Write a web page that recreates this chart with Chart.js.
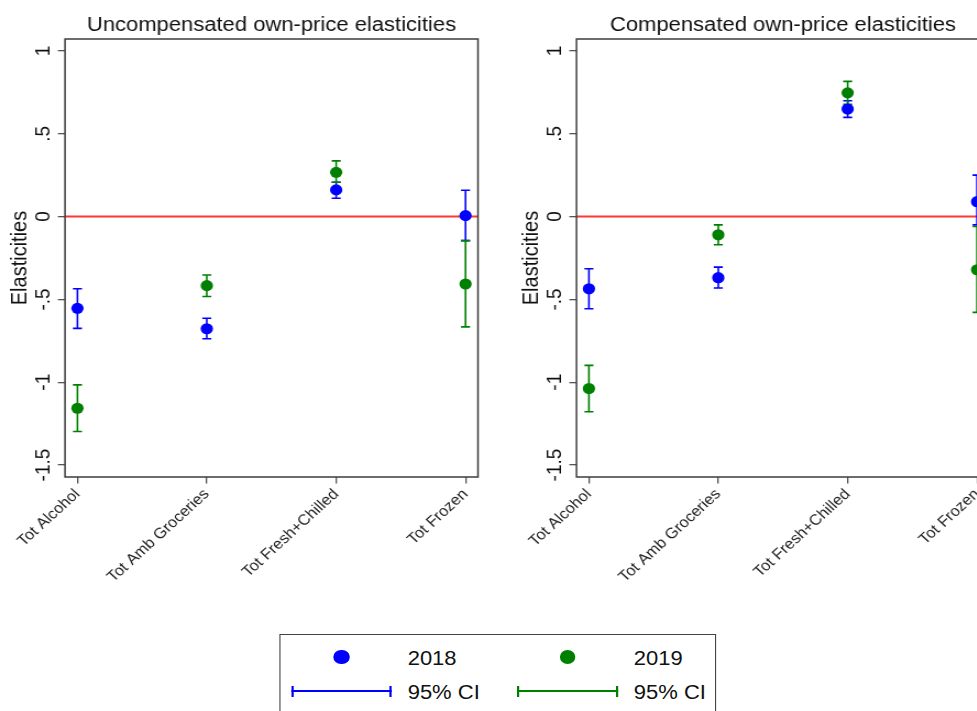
<!DOCTYPE html>
<html>
<head>
<meta charset="utf-8">
<title>Own-price elasticities</title>
<script src="https://cdn.jsdelivr.net/npm/chart.js@4.4.1/dist/chart.umd.min.js"></script>
<style>
  html, body { margin: 0; padding: 0; background: #fff; overflow: hidden; width: 977px; height: 711px; }
  /* whole figure is drawn at its natural width and then widened by 10% */
  #stage { position: absolute; left: 0; top: 0; width: 910px; height: 711px;
           transform: scaleX(1.1); transform-origin: 0 0;
           font-family: "Liberation Sans", Arial, sans-serif; color: #111; }
  .panel { position: absolute; top: 0; }
  #legend { position: absolute; left: 253.6px; top: 634px; width: 397.3px; height: 90px;
            border: 1.5px solid #444; box-sizing: border-box; background: #fff; }
  .dot { position: absolute; width: 14.5px; height: 14.5px; border-radius: 50%; }
  .txt { position: absolute; font-size: 20px; line-height: 20px; white-space: nowrap; }
  .ci { position: absolute; height: 11px; }
  .ci .bar { position: absolute; left: 0; right: 0; top: 4.5px; height: 2px; }
  .ci .cap { position: absolute; top: 0; width: 2px; height: 11px; }
</style>
</head>
<body>
<div id="stage">
  <canvas id="uncomp" class="panel" width="445" height="600" style="left:0px"></canvas>
  <canvas id="comp" class="panel" width="445" height="600" style="left:464.5px"></canvas>
  <div id="legend">
    <div class="dot" style="left:48.9px; top:14.5px; background:rgb(0,0,255)"></div>
    <div class="txt" style="left:116px; top:12.9px">2018</div>
    <div class="dot" style="left:254.4px; top:14.5px; background:rgb(0,128,0)"></div>
    <div class="txt" style="left:321.6px; top:12.9px">2019</div>
    <div class="ci" style="left:10px; width:91.6px; top:50.5px">
      <div class="bar" style="background:rgb(0,0,255)"></div>
      <div class="cap" style="left:0; background:rgb(0,0,255)"></div>
      <div class="cap" style="right:0; background:rgb(0,0,255)"></div>
    </div>
    <div class="txt" style="left:116px; top:47px">95% CI</div>
    <div class="ci" style="left:215.5px; width:92px; top:50.5px">
      <div class="bar" style="background:rgb(0,128,0)"></div>
      <div class="cap" style="left:0; background:rgb(0,128,0)"></div>
      <div class="cap" style="right:0; background:rgb(0,128,0)"></div>
    </div>
    <div class="txt" style="left:321.6px; top:47px">95% CI</div>
  </div>
</div>
<script>
// Product groups on the x axis
const categories = ['Tot Alcohol', 'Tot Amb Groceries', 'Tot Fresh+Chilled', 'Tot Frozen'];

// y-axis ticks and how they are printed
const yTickValues = [1, 0.5, 0, -0.5, -1, -1.5];
const yTickLabels = ['1', '.5', '0', '-.5', '-1', '-1.5'];

// Uncompensated own-price elasticities: estimate, lower and upper 95% bound
const uncomp2018 = [-0.554, -0.677, 0.161, 0.006];
const uncomp2018Lo = [-0.675, -0.737, 0.111, -0.145];
const uncomp2018Hi = [-0.436, -0.614, 0.207, 0.159];
const uncomp2019 = [-1.157, -0.417, 0.267, -0.407];
const uncomp2019Lo = [-1.297, -0.482, 0.207, -0.666];
const uncomp2019Hi = [-1.016, -0.353, 0.336, -0.145];

// Compensated own-price elasticities
const comp2018 = [-0.436, -0.369, 0.649, 0.090];
const comp2018Lo = [-0.556, -0.431, 0.599, -0.050];
const comp2018Hi = [-0.315, -0.305, 0.699, 0.250];
const comp2019 = [-1.038, -0.110, 0.747, -0.321];
const comp2019Lo = [-1.178, -0.170, 0.678, -0.578];
const comp2019Hi = [-0.898, -0.050, 0.816, -0.060];

const BLUE = 'rgb(0,0,255)';
const GREEN = 'rgb(0,128,0)';
const FONT = '"Liberation Sans", Arial, sans-serif';

// Zero line, confidence-interval caps, frame, panel title and vertical y tick labels
const decor = {
  id: 'decor',
  beforeDatasetsDraw(chart, args, opts) {
    const { ctx, chartArea: a, scales: { x, y } } = chart;
    ctx.save();
    ctx.strokeStyle = 'rgb(255,55,55)';
    ctx.lineWidth = 2;
    const y0 = y.getPixelForValue(0);
    ctx.beginPath(); ctx.moveTo(a.left, y0); ctx.lineTo(a.right, y0); ctx.stroke();
    const cap = 4.1;
    opts.intervals.forEach(s => {
      ctx.strokeStyle = s.color;
      ctx.lineWidth = 1.6;
      s.lo.forEach((lo, i) => {
        const px = x.getPixelForValue(i);
        const p1 = y.getPixelForValue(lo);
        const p2 = y.getPixelForValue(s.hi[i]);
        ctx.beginPath();
        ctx.moveTo(px, p1); ctx.lineTo(px, p2);
        ctx.moveTo(px - cap, p1); ctx.lineTo(px + cap, p1);
        ctx.moveTo(px - cap, p2); ctx.lineTo(px + cap, p2);
        ctx.stroke();
      });
    });
    ctx.restore();
  },
  afterDraw(chart, args, opts) {
    const { ctx, chartArea: a, scales: { y } } = chart;
    ctx.save();
    ctx.strokeStyle = '#3c3c3c';
    ctx.lineWidth = 1.5;
    ctx.strokeRect(a.left, a.top, a.right - a.left, a.bottom - a.top);

    ctx.fillStyle = '#111';
    ctx.font = '20px ' + FONT;
    ctx.textAlign = 'center';
    ctx.textBaseline = 'alphabetic';
    ctx.fillText(opts.title, (a.left + a.right) / 2, 30.7);

    ctx.font = '19px ' + FONT;
    yTickValues.forEach((v, i) => {
      ctx.save();
      ctx.translate(45, y.getPixelForValue(v));
      ctx.rotate(-Math.PI / 2);
      ctx.fillText(yTickLabels[i], 0, 0);
      ctx.restore();
    });
    ctx.restore();
  }
};

function points(values) {
  return values.map((v, i) => ({ x: i, y: v }));
}

function makePanel(id, title, s2018, s2019) {
  return new Chart(document.getElementById(id), {
    type: 'scatter',
    data: {
      datasets: [
        { label: '2018', data: points(s2018.est), backgroundColor: BLUE, borderWidth: 0,
          pointRadius: 5.6, pointHoverRadius: 5.6 },
        { label: '2019', data: points(s2019.est), backgroundColor: GREEN, borderWidth: 0,
          pointRadius: 5.6, pointHoverRadius: 5.6 }
      ]
    },
    options: {
      responsive: false,
      animation: false,
      devicePixelRatio: 1,
      events: [],
      layout: { padding: { top: 39, right: 10.5, left: 0, bottom: 0 } },
      plugins: {
        legend: { display: false },
        tooltip: { enabled: false },
        decor: {
          title: title,
          intervals: [
            { color: BLUE, lo: s2018.lo, hi: s2018.hi },
            { color: GREEN, lo: s2019.lo, hi: s2019.hi }
          ]
        }
      },
      scales: {
        x: {
          type: 'linear',
          min: -0.096,
          max: 3.096,
          afterBuildTicks: scale => { scale.ticks = categories.map((c, i) => ({ value: i })); },
          afterFit: scale => { scale.height = 123; },
          grid: { drawOnChartArea: false, drawTicks: true, tickLength: 6.5, color: '#555', lineWidth: 1.3 },
          border: { display: false },
          ticks: {
            autoSkip: false,
            minRotation: 45,
            maxRotation: 45,
            padding: 2,
            color: '#222',
            font: { family: FONT, size: 15 },
            callback: v => categories[v]
          }
        },
        y: {
          type: 'linear',
          min: -1.572,
          max: 1.072,
          afterBuildTicks: scale => { scale.ticks = yTickValues.map(v => ({ value: v })); },
          afterFit: scale => { scale.width = 59.1; },
          grid: { drawOnChartArea: false, drawTicks: true, tickLength: 6.5, color: '#555', lineWidth: 1.3 },
          border: { display: false },
          ticks: { display: false },
          title: {
            display: true,
            text: 'Elasticities',
            color: '#111',
            font: { family: FONT, size: 20 },
            padding: { top: 6, bottom: 0 }
          }
        }
      }
    },
    plugins: [decor]
  });
}

makePanel('uncomp', 'Uncompensated own-price elasticities',
  { est: uncomp2018, lo: uncomp2018Lo, hi: uncomp2018Hi },
  { est: uncomp2019, lo: uncomp2019Lo, hi: uncomp2019Hi });

makePanel('comp', 'Compensated own-price elasticities',
  { est: comp2018, lo: comp2018Lo, hi: comp2018Hi },
  { est: comp2019, lo: comp2019Lo, hi: comp2019Hi });
</script>
</body>
</html>
